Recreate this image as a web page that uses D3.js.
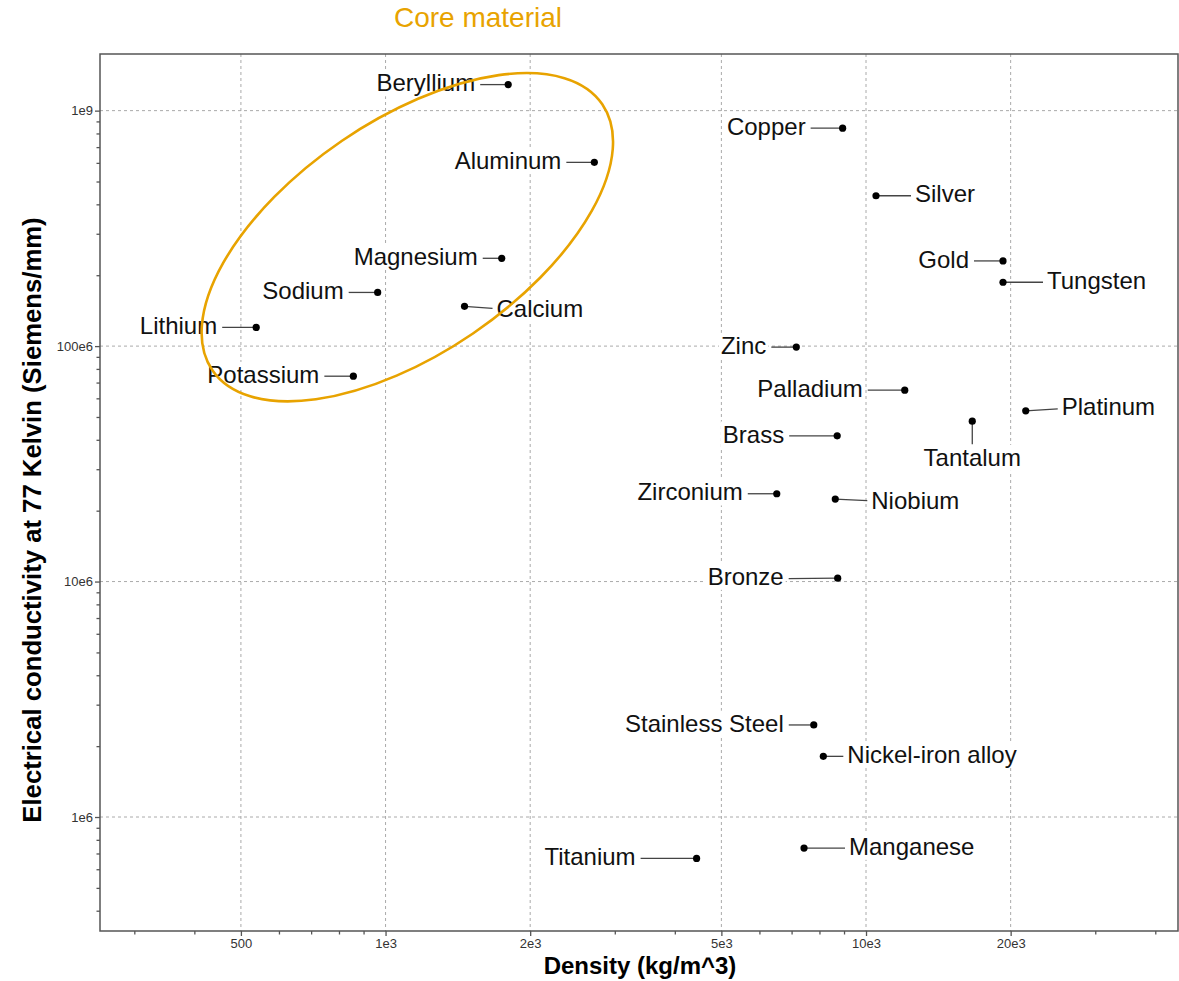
<!DOCTYPE html>
<html>
<head>
<meta charset="utf-8">
<script src="https://cdn.jsdelivr.net/npm/d3@7"></script>
<style>
  body { margin: 0; background: #fff; }
  svg { display: block; }
  text { font-family: "Liberation Sans", Arial, sans-serif; }
</style>
</head>
<body>
<svg id="chart" width="1179" height="981"></svg>
<script>
// Materials: density (kg/m^3) vs electrical conductivity at 77 K (Siemens/mm)
const materials = [
  "Beryllium", "Aluminum", "Magnesium", "Sodium", "Calcium", "Lithium", "Potassium",
  "Copper", "Silver", "Gold", "Tungsten", "Zinc", "Palladium", "Platinum", "Tantalum",
  "Brass", "Zirconium", "Niobium", "Bronze", "Stainless Steel", "Nickel-iron alloy",
  "Titanium", "Manganese"
];
const density = [
  1800, 2720, 1745, 963, 1460, 538, 857,
  8940, 10490, 19280, 19280, 7160, 12040, 21500, 16640,
  8710, 6520, 8630, 8730, 7785, 8150,
  4440, 7430
];
const conductivity = [
  1.29e9, 6.03e8, 2.36e8, 1.69e8, 1.475e8, 1.2e8, 7.45e7,
  8.42e8, 4.35e8, 2.30e8, 1.867e8, 9.9e7, 6.5e7, 5.31e7, 4.8e7,
  4.16e7, 2.36e7, 2.24e7, 1.034e7, 2.46e6, 1.81e6,
  6.67e5, 7.38e5
];
const coreMaterials = ["Beryllium", "Aluminum", "Magnesium", "Sodium", "Calcium", "Lithium", "Potassium"];

const xTickValues = [500, 1000, 2000, 5000, 10000, 20000];
const xTickLabels = ["500", "1e3", "2e3", "5e3", "10e3", "20e3"];
const yTickValues = [1e6, 1e7, 1e8, 1e9];
const yTickLabels = ["1e6", "10e6", "100e6", "1e9"];

// Where each label sits relative to its point: side, leader length, leader end dy, label dy
const labelPlacement = {
  "Beryllium": ["left", 28, 0, 0],
  "Aluminum": ["left", 28, 0, 0],
  "Magnesium": ["left", 19, 0, 0],
  "Sodium": ["left", 29, 0, 0],
  "Calcium": ["right", 28, 2, 4],
  "Lithium": ["left", 34, 0, 0],
  "Potassium": ["left", 29, 0, 0],
  "Copper": ["left", 32, 0, 0],
  "Silver": ["right", 35, 0, 0],
  "Gold": ["left", 29, 0, 0],
  "Tungsten": ["right", 40, 0, 0],
  "Zinc": ["left", 25, 0, 0],
  "Palladium": ["left", 37, 0, 0],
  "Platinum": ["right", 32, -2, -3],
  "Tantalum": ["below", 23, 0, 0],
  "Brass": ["left", 48, 0, 0],
  "Zirconium": ["left", 29, 0, 0],
  "Niobium": ["right", 32, 1.5, 3.5],
  "Bronze": ["left", 49, 0.4, 0],
  "Stainless Steel": ["left", 25, 0, 0],
  "Nickel-iron alloy": ["right", 20, 0, 0],
  "Titanium": ["left", 56, 0, 0],
  "Manganese": ["right", 41, 0, 0]
};

const points = materials.map((name, i) => ({ name, density: density[i], conductivity: conductivity[i] }));

const svg = d3.select("#chart");
const plot = { left: 100, right: 1178, top: 54, bottom: 931 };

const x = d3.scaleLog().domain([254.5, 44600]).range([plot.left, plot.right]);
const y = d3.scaleLog().domain([3.28e5, 1.74e9]).range([plot.bottom, plot.top]);

const axisColor = "#555";
const orange = "#e8a300";

// Minor tick positions (remaining multiples within each decade)
const xMinor = [];
for (let k = 2; k <= 4; k++) [3, 4, 6, 7, 8, 9].forEach(m => {
  const v = m * Math.pow(10, k);
  if (v >= x.domain()[0] && v <= x.domain()[1]) xMinor.push(v);
});
const yMinor = [];
for (let k = 5; k <= 9; k++) [2, 3, 4, 5, 6, 7, 8, 9].forEach(m => {
  const v = m * Math.pow(10, k);
  if (v >= y.domain()[0] && v <= y.domain()[1]) yMinor.push(v);
});

// Dashed grid at labelled ticks
const grid = svg.append("g").attr("stroke", "#aaa").attr("stroke-width", 1).attr("stroke-dasharray", "3,3");
grid.selectAll("line.gx").data(xTickValues).join("line")
  .attr("x1", d => x(d)).attr("x2", d => x(d))
  .attr("y1", plot.top).attr("y2", plot.bottom);
grid.selectAll("line.gy").data(yTickValues).join("line")
  .attr("x1", plot.left).attr("x2", plot.right)
  .attr("y1", d => y(d)).attr("y2", d => y(d));

// Axes
const xAxis = d3.axisBottom(x).tickValues(xTickValues)
  .tickFormat((d, i) => xTickLabels[i]).tickSize(5).tickPadding(3);
const xMinorAxis = d3.axisBottom(x).tickValues(xMinor).tickFormat("").tickSize(3.5);
const yAxis = d3.axisLeft(y).tickValues(yTickValues)
  .tickFormat((d, i) => yTickLabels[i]).tickSize(5).tickPadding(2);
const yMinorAxis = d3.axisLeft(y).tickValues(yMinor).tickFormat("").tickSize(3.5);

function styleAxis(g) {
  g.select(".domain").remove();
  g.selectAll(".tick line").attr("stroke", axisColor).attr("stroke-width", 1.3);
  g.selectAll(".tick text").attr("fill", "#333").style("font-size", "13px")
    .style("font-family", "'Liberation Sans', Arial, sans-serif");
}
svg.append("g").attr("transform", `translate(0,${plot.bottom})`).call(xAxis).call(styleAxis);
svg.append("g").attr("transform", `translate(0,${plot.bottom})`).call(xMinorAxis).call(styleAxis);
svg.append("g").attr("transform", `translate(${plot.left},0)`).call(yAxis).call(styleAxis);
svg.append("g").attr("transform", `translate(${plot.left},0)`).call(yMinorAxis).call(styleAxis);

// Plot frame
svg.append("rect")
  .attr("x", plot.left).attr("y", plot.top)
  .attr("width", plot.right - plot.left).attr("height", plot.bottom - plot.top)
  .attr("fill", "none").attr("stroke", axisColor).attr("stroke-width", 1.5);

// Axis titles
svg.append("text")
  .attr("x", 640).attr("y", 974)
  .attr("text-anchor", "middle")
  .style("font-size", "24px").style("font-weight", "bold").attr("fill", "#000")
  .text("Density (kg/m^3)");
svg.append("text")
  .attr("transform", "translate(41,520) rotate(-90)")
  .attr("text-anchor", "middle")
  .style("font-size", "25.7px").style("font-weight", "bold").attr("fill", "#000")
  .text("Electrical conductivity at 77 Kelvin (Siemens/mm)");

// Labels with leader lines
const labelGap = 5;
const labelLayer = svg.append("g");
const leaderLayer = svg.append("g");
points.forEach(p => {
  const [side, len, ldy, tdy] = labelPlacement[p.name];
  const px = x(p.density), py = y(p.conductivity);
  let lx, ly, tx, ty, anchor;
  if (side === "left") {
    lx = px - len; ly = py + ldy;
    tx = lx - labelGap; ty = py + tdy; anchor = "end";
  } else if (side === "right") {
    lx = px + len; ly = py + ldy;
    tx = lx + 4; ty = py + tdy; anchor = "start";
  } else {
    lx = px; ly = py + len;
    tx = px; ty = py + 38; anchor = "middle";
  }
  const g = labelLayer.append("g");
  const t = g.append("text")
    .attr("x", tx).attr("y", ty).attr("dy", "0.28em")
    .attr("text-anchor", anchor)
    .style("font-size", "24px").attr("fill", "#111")
    .text(p.name);
  const bb = t.node().getBBox();
  g.insert("rect", "text")
    .attr("x", bb.x - 2).attr("y", bb.y + 1)
    .attr("width", bb.width + 4).attr("height", bb.height - 1)
    .attr("fill", "#fff");
  leaderLayer.append("line")
    .attr("x1", px).attr("y1", py).attr("x2", lx).attr("y2", ly)
    .attr("stroke", "#444").attr("stroke-width", 1.3);
});

// Points
svg.append("g").selectAll("circle").data(points).join("circle")
  .attr("cx", d => x(d.density)).attr("cy", d => y(d.conductivity))
  .attr("r", 3.6).attr("fill", "#000");

// Ellipse around the core materials
const core = points.filter(p => coreMaterials.includes(p.name));
const ellipseCenter = [1110, 2.9e8];
svg.append("ellipse")
  .attr("transform", `translate(${x(ellipseCenter[0])},${y(ellipseCenter[1])}) rotate(-34.3)`)
  .attr("rx", 236).attr("ry", 116.5)
  .attr("fill", "none").attr("stroke", orange).attr("stroke-width", 2.6);

svg.append("text")
  .attr("x", 478).attr("y", 27)
  .attr("text-anchor", "middle")
  .style("font-size", "28px").attr("fill", orange)
  .text("Core material");
</script>
</body>
</html>
